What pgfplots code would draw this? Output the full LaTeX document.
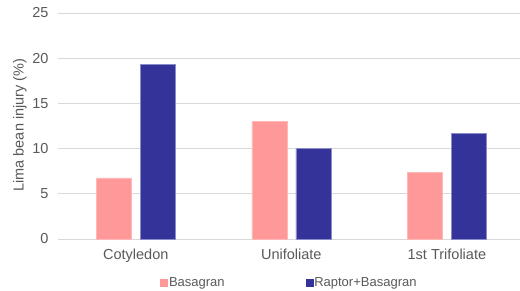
\documentclass[border=0pt]{standalone}
\usepackage{pgfplots}
\pgfplotsset{compat=1.18}
\usepackage{fontspec}
\setmainfont{Liberation Sans}
\definecolor{pinkbar}{HTML}{FF9999}
\definecolor{pinkedge}{HTML}{FFB8B8}
\definecolor{bluebar}{HTML}{333399}
\definecolor{blueedge}{HTML}{8C8CC8}
\definecolor{txt}{HTML}{595959}
\definecolor{gridc}{HTML}{D9D9D9}
\begin{document}
\begin{tikzpicture}
\useasboundingbox (0,0) rectangle (520pt,290pt);
\begin{axis}[
  at={(58pt,51pt)}, anchor=south west,
  scale only axis, width=462pt, height=226pt,
  ymin=0, ymax=25, ytick={0,5,...,25},
  xmin=-0.5, xmax=2.47,
  xtick={0,1,2}, xticklabels={Cotyledon,Unifoliate,1st Trifoliate},
  axis lines*=left,
  x axis line style={draw=gridc, line width=0.8pt},
  y axis line style={draw=none},
  major tick length=0pt,
  ymajorgrids, grid style={draw=gridc, line width=0.8pt},
  ybar=9pt, bar width=35pt,
  /pgf/number format/assume math mode=true,
  ticklabel style={font=\fontsize{14.5}{17}\selectfont, text=txt},
  yticklabel style={xshift=-6pt},
  xticklabel style={yshift=-6pt},
  ylabel={Lima bean injury (\%)},
  ylabel style={at={(axis description cs:-0.0823,0.504)}, anchor=center, font=\fontsize{14.5}{17}\selectfont, text=txt},
  legend columns=2,
  legend style={at={(axis description cs:0.5,-0.193)}, anchor=center, draw=none, fill=none,
    font=\fontsize{13}{15}\selectfont, text=txt,
    /tikz/every even column/.append style={column sep=80pt},
    nodes={inner sep=1pt}},
]
\addplot[fill=pinkbar, draw=pinkedge, line width=0.6pt,
  legend image code/.code={\fill[pinkbar] (0pt,-3.5pt) rectangle (7pt,3.5pt);}]
  coordinates {(0,6.75) (1,13.0) (2,7.33)};
\addplot[fill=bluebar, draw=blueedge, line width=0.6pt,
  legend image code/.code={\fill[bluebar] (0pt,-3.5pt) rectangle (7pt,3.5pt);}]
  coordinates {(0,19.3) (1,10.0) (2,11.7)};
\legend{Basagran,Raptor+Basagran}
\end{axis}
\end{tikzpicture}
\end{document}
